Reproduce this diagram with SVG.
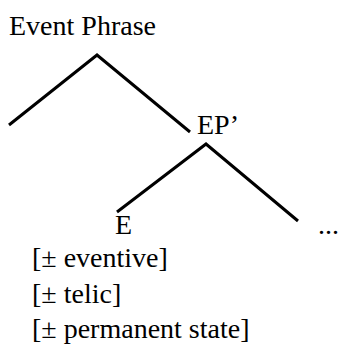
<svg xmlns="http://www.w3.org/2000/svg" width="340" height="344" viewBox="0 0 340 344">
  <style>
    .lbl { font-family: "Liberation Serif", "Times New Roman", serif; font-size: 28px; fill: #000; }
    .branch { fill: none; stroke: #000; stroke-width: 3; stroke-linejoin: miter; stroke-linecap: butt; }
  </style>
  <rect width="340" height="344" fill="#fff"/>

  <!-- tree branches -->
  <g id="connectors">
    <polyline class="branch" points="9,125 97,55 190,132"/>
    <polyline class="branch" points="117,212 206,144 298,221"/>
  </g>

  <g id="node-ep">
    <text class="lbl" x="9" y="35">Event Phrase</text>
  </g>
  <g id="node-ep-bar">
    <text class="lbl" x="197" y="134">EP’</text>
  </g>
  <g id="node-e">
    <text class="lbl" x="115" y="234">E</text>
  </g>
  <g id="node-rest">
    <text class="lbl" x="318" y="234">...</text>
  </g>
  <g id="features">
    <text class="lbl" x="32" y="267">[± eventive]</text>
    <text class="lbl" x="32" y="303">[± telic]</text>
    <text class="lbl" x="32" y="338">[± permanent state]</text>
  </g>
</svg>
